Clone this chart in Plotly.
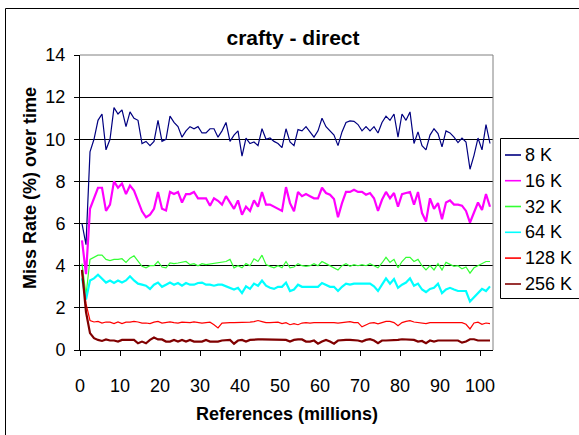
import plotly.graph_objects as go

# ---- data ----
x_refs = [i + 0.5 for i in range(103)]

s8 = [6.0, 5.0, 9.4, 10.0, 10.9, 11.2, 9.5, 10.0, 11.5, 11.2,
      11.4, 10.6, 11.3, 11.0, 10.9, 9.8, 9.9, 9.7, 9.9, 10.9,
      9.9, 10.0, 11.1, 10.8, 10.6, 10.1, 10.4, 10.6, 10.5, 10.6,
      10.3, 10.3, 10.5, 10.5, 10.1, 10.4, 10.8, 9.9, 10.2, 10.4,
      9.2, 10.05, 9.8, 9.87, 9.7, 10.5, 10.0, 10.06, 9.9, 9.8,
      9.6, 10.5, 9.87, 9.7, 10.46, 10.4, 10.6, 10.35, 10.1, 10.4,
      11.0, 10.6, 10.4, 10.2, 9.7, 10.35, 10.8, 10.87, 10.85, 10.7,
      10.4, 10.6, 10.4, 10.6, 10.3, 10.8, 11.1, 10.9, 11.2, 10.1,
      11.2, 10.9, 11.3, 9.8, 10.35, 9.7, 9.5, 10.2, 10.5, 10.27,
      9.64, 10.4, 10.3, 10.1, 9.84, 10.06, 9.87, 8.58, 9.24, 10.06,
      9.5, 10.7, 9.8]

s16 = [5.2, 3.6, 6.7, 7.16, 7.7, 7.7, 6.6, 6.9, 8.0, 7.7,
       7.9, 7.4, 7.8, 7.57, 7.05, 6.58, 6.3, 6.42, 6.7, 7.5,
       6.7, 6.62, 7.5, 7.4, 7.5, 7.0, 7.4, 7.4, 7.5, 7.2,
       7.2, 7.2, 6.85, 7.2, 7.08, 6.9, 7.3, 7.0, 6.7, 7.1,
       6.42, 6.8, 6.6, 7.1, 6.8, 7.5, 6.9, 6.9, 6.8, 6.7,
       6.6, 7.73, 6.97, 6.58, 7.5, 7.3, 7.4, 7.3, 7.2, 7.2,
       7.7, 7.45, 7.37, 7.16, 6.3, 6.97, 7.5, 7.5, 7.6, 7.5,
       7.5, 7.37, 7.45, 7.2, 6.6, 7.13, 7.5, 7.2, 7.45, 6.8,
       7.4, 7.45, 7.5, 6.9, 7.5, 6.5, 6.1, 7.2, 6.7, 6.97,
       6.2, 7.0, 7.1, 6.9, 6.9, 6.85, 6.6, 6.05, 6.5, 7.0,
       6.65, 7.4, 6.8]

s32 = [4.1, 2.6, 4.3, 4.4, 4.5, 4.5, 4.3, 4.24, 4.3, 4.3,
       4.33, 4.16, 4.36, 4.47, 4.2, 3.97, 3.9, 4.0, 4.0, 4.2,
       3.94, 3.9, 4.13, 4.1, 4.13, 4.16, 4.2, 4.05, 4.1, 4.0,
       4.1, 4.05, 4.08, 4.12, 4.12, 4.16, 4.2, 4.3, 3.9, 4.0,
       3.9, 4.1, 4.0, 4.33, 4.2, 4.5, 4.05, 3.97, 3.9, 4.0,
       3.9, 4.2, 3.9, 3.94, 4.1, 4.0, 3.97, 4.0, 4.1, 4.0,
       4.2, 4.1, 4.0, 3.9, 3.8, 4.0, 4.1, 3.97, 4.05, 4.0,
       4.05, 4.0, 4.1, 4.0, 3.9, 4.13, 4.4, 4.16, 4.3, 3.9,
       4.2, 4.4, 4.4, 4.2, 4.3, 4.0, 3.8, 4.0, 3.8, 4.1,
       3.8, 4.16, 4.05, 3.97, 4.0, 3.85, 3.94, 3.65, 3.9, 4.0,
       4.13, 4.2, 4.2]

s64 = [3.4, 2.4, 3.3, 3.4, 3.57, 3.4, 3.2, 3.3, 3.18, 3.3,
       3.2, 3.3, 3.5, 3.3, 3.15, 3.1, 3.05, 2.9, 3.1, 3.2,
       3.0, 3.1, 3.2, 3.1, 3.18, 3.05, 3.18, 3.1, 3.1, 3.18,
       3.2, 3.1, 3.1, 3.05, 3.1, 3.1, 3.02, 2.95, 2.87, 2.95,
       2.7, 3.02, 2.9, 3.15, 3.05, 3.3, 3.05, 2.95, 2.9, 3.0,
       3.0, 3.2, 2.8, 2.87, 3.1, 3.0, 3.0, 3.0, 3.0, 3.0,
       3.18, 3.1, 3.0, 3.0, 2.8, 3.0, 3.15, 3.1, 3.15, 3.15,
       3.15, 3.15, 3.15, 3.02, 2.8, 3.1, 3.4, 3.15, 3.37, 2.95,
       3.1, 3.2, 3.4, 3.05, 3.15, 2.87, 2.75, 2.9, 2.95, 3.15,
       2.7, 2.87, 2.95, 2.87, 2.8, 2.8, 2.8, 2.3, 2.5, 2.7,
       2.9, 2.8, 3.02]

s128 = [3.7, 2.2, 1.4, 1.33, 1.36, 1.28, 1.33, 1.32, 1.25, 1.33,
        1.25, 1.32, 1.32, 1.36, 1.33, 1.28, 1.28, 1.25, 1.32, 1.36,
        1.28, 1.32, 1.33, 1.3, 1.28, 1.32, 1.3, 1.3, 1.33, 1.3,
        1.28, 1.3, 1.32, 1.2, 1.05, 1.28, 1.3, 1.3, 1.3, 1.3,
        1.3, 1.3, 1.32, 1.35, 1.4, 1.35, 1.3, 1.3, 1.3, 1.32,
        1.25, 1.3, 1.2, 1.25, 1.2, 1.28, 1.3, 1.28, 1.3, 1.3,
        1.3, 1.3, 1.33, 1.3, 1.28, 1.3, 1.35, 1.35, 1.3, 1.3,
        1.1, 1.2, 1.28, 1.3, 1.24, 1.3, 1.36, 1.36, 1.3, 1.15,
        1.3, 1.36, 1.39, 1.33, 1.3, 1.25, 1.25, 1.3, 1.3, 1.28,
        1.3, 1.3, 1.3, 1.3, 1.3, 1.3, 1.22, 1.0, 1.28, 1.32,
        1.22, 1.28, 1.25]

s256 = [3.8, 1.8, 0.8, 0.56, 0.48, 0.43, 0.5, 0.45, 0.45, 0.4,
        0.48, 0.48, 0.48, 0.48, 0.32, 0.4, 0.32, 0.48, 0.59, 0.5,
        0.5, 0.4, 0.4, 0.48, 0.4, 0.48, 0.4, 0.48, 0.4, 0.4,
        0.4, 0.48, 0.4, 0.4, 0.4, 0.45, 0.48, 0.48, 0.3, 0.45,
        0.48, 0.4, 0.48, 0.5, 0.5, 0.5, 0.5, 0.48, 0.5, 0.5,
        0.5, 0.48, 0.4, 0.48, 0.5, 0.5, 0.4, 0.4, 0.45, 0.3,
        0.4, 0.48, 0.4, 0.3, 0.45, 0.48, 0.48, 0.48, 0.48, 0.45,
        0.4, 0.48, 0.51, 0.45, 0.32, 0.45, 0.45, 0.45, 0.45, 0.48,
        0.51, 0.51, 0.51, 0.48, 0.4, 0.43, 0.32, 0.45, 0.4, 0.45,
        0.45, 0.45, 0.45, 0.45, 0.45, 0.35, 0.4, 0.51, 0.51, 0.45,
        0.45, 0.45, 0.45]

series_names = ["8 K", "16 K", "32 K", "64 K", "128 K", "256 K"]
series_values = [s8, s16, s32, s64, s128, s256]
series_colors = ["#000080", "#FF00FF", "#33FF33", "#00FFFF", "#FF0000", "#800000"]
series_widths = [1.2, 2.2, 1.2, 2.2, 1.2, 2.2]

x_ticks = list(range(0, 101, 10))
y_ticks = list(range(0, 15, 2))

# ---- layout geometry (pixels) ----
W, H = 579, 435
L, R, T, B = 80, 86, 55, 85
pw, ph = W - L - R, H - T - B

def px_x(p):
    return (p - L) / pw

def px_y(p):
    return (H - B - p) / ph

FONT = "Liberation Sans, Arial, sans-serif"
FS = 18

fig = go.Figure()
for name, vals, col, w in zip(series_names, series_values, series_colors, series_widths):
    fig.add_trace(go.Scatter(x=x_refs, y=vals, mode="lines", name=name,
                             line=dict(color=col, width=w), showlegend=False))

shapes = []
annotations = []
# outer chart border
shapes.append(dict(type="rect", xref="paper", yref="paper",
                   x0=px_x(5.5), x1=px_x(600), y0=px_y(440), y1=px_y(8.5),
                   line=dict(color="black", width=1), layer="below"))
# plot area border (top & right grey)
shapes.append(dict(type="line", xref="paper", yref="paper", x0=0, x1=1, y0=1, y1=1,
                   line=dict(color="#808080", width=1)))
shapes.append(dict(type="line", xref="paper", yref="paper", x0=1, x1=1, y0=0, y1=1,
                   line=dict(color="#808080", width=1)))
# legend box
lx0, ly0, ly1 = 500.5, 138.5, 298.5
shapes.append(dict(type="rect", xref="paper", yref="paper",
                   x0=px_x(lx0), x1=px_x(620), y0=px_y(ly1), y1=px_y(ly0),
                   line=dict(color="black", width=1), fillcolor="white"))
row_y = [155, 180.7, 206.5, 232.3, 258.1, 284]
for name, col, ry in zip(series_names, series_colors, row_y):
    shapes.append(dict(type="line", xref="paper", yref="paper",
                       x0=px_x(505), x1=px_x(521), y0=px_y(ry), y1=px_y(ry),
                       line=dict(color=col, width=1.6)))
    annotations.append(dict(text=name, xref="paper", yref="paper",
                            x=px_x(523), y=px_y(ry), xanchor="left", yanchor="middle",
                            showarrow=False, font=dict(family=FONT, size=FS, color="black")))

# axis titles
annotations.append(dict(text="<b>Miss Rate (%) over time</b>", xref="paper", yref="paper",
                        x=px_x(30), y=px_y(188), xanchor="center", yanchor="middle",
                        textangle=-90, showarrow=False,
                        font=dict(family=FONT, size=FS, color="black")))
annotations.append(dict(text="<b>References (millions)</b>", xref="paper", yref="paper",
                        x=px_x(287), y=px_y(414), xanchor="center", yanchor="middle",
                        showarrow=False,
                        font=dict(family=FONT, size=FS, color="black")))

fig.update_layout(
    width=W, height=H,
    margin=dict(l=L, r=R, t=T, b=B, pad=0),
    paper_bgcolor="white", plot_bgcolor="white",
    showlegend=False,
    title=dict(text="<b>crafty - direct</b>", x=px_x(293), xref="paper", xanchor="center",
               y=1 - 38 / H, yref="container", yanchor="middle",
               font=dict(family=FONT, size=21, color="black")),
    font=dict(family=FONT, size=FS, color="black"),
    shapes=shapes, annotations=annotations,
)
fig.update_xaxes(range=[0, pw / 4.0], tickvals=x_ticks, ticks="outside", ticklen=5,
                 tickcolor="black", showline=True, linecolor="black", linewidth=1,
                 showgrid=False, zeroline=False, ticklabelstandoff=14,
                 tickfont=dict(family=FONT, size=FS, color="black"))
fig.update_yaxes(range=[0, 14], tickvals=y_ticks, ticks="outside", ticklen=5,
                 tickcolor="black", showline=True, linecolor="black", linewidth=1,
                 showgrid=True, gridcolor="black", gridwidth=1, zeroline=False,
                 ticklabelstandoff=5,
                 tickfont=dict(family=FONT, size=FS, color="black"))

fig.write_html("out.html")
